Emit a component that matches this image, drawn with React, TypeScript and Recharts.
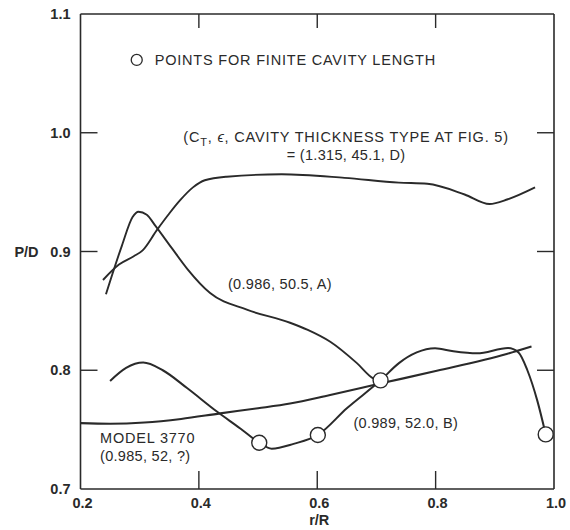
import React from 'react';
import { ComposedChart, Line, Scatter, XAxis, YAxis, ReferenceDot } from 'recharts';

// ---- data ----
const xTicks = [0.2, 0.4, 0.6, 0.8, 1.0];
const yTicks = [0.7, 0.8, 0.9, 1.0, 1.1];
const innerXTicks = [0.4, 0.6, 0.8];
const innerYTicks = [0.8, 0.9, 1.0];

// (C_T, eps, type) = (1.315, 45.1, D)
const curveD = [
  { x: 0.238, y: 0.876 }, { x: 0.265, y: 0.889 }, { x: 0.29, y: 0.896 },
  { x: 0.305, y: 0.901 }, { x: 0.329, y: 0.918 }, { x: 0.35, y: 0.932 },
  { x: 0.368, y: 0.943 }, { x: 0.39, y: 0.954 }, { x: 0.41, y: 0.96 },
  { x: 0.447, y: 0.963 }, { x: 0.54, y: 0.965 }, { x: 0.646, y: 0.962 },
  { x: 0.738, y: 0.958 }, { x: 0.786, y: 0.957 }, { x: 0.849, y: 0.948 },
  { x: 0.891, y: 0.94 }, { x: 0.922, y: 0.944 }, { x: 0.968, y: 0.954 },
];

// (0.986, 50.5, A)
const curveA = [
  { x: 0.243, y: 0.864 }, { x: 0.27, y: 0.905 }, { x: 0.288, y: 0.929 },
  { x: 0.298, y: 0.9335 }, { x: 0.312, y: 0.931 }, { x: 0.326, y: 0.922 },
  { x: 0.354, y: 0.903 }, { x: 0.381, y: 0.885 }, { x: 0.419, y: 0.865 },
  { x: 0.481, y: 0.851 }, { x: 0.554, y: 0.84 }, { x: 0.584, y: 0.834 },
  { x: 0.622, y: 0.824 }, { x: 0.667, y: 0.806 }, { x: 0.695, y: 0.793 },
  { x: 0.707, y: 0.791 },
];

// (0.989, 52.0, B)
const curveB = [
  { x: 0.25, y: 0.791 }, { x: 0.277, y: 0.802 }, { x: 0.306, y: 0.8065 },
  { x: 0.339, y: 0.8 }, { x: 0.38, y: 0.785 }, { x: 0.431, y: 0.765 },
  { x: 0.47, y: 0.751 }, { x: 0.502, y: 0.739 }, { x: 0.523, y: 0.734 },
  { x: 0.56, y: 0.738 }, { x: 0.601, y: 0.7455 }, { x: 0.65, y: 0.768 },
  { x: 0.707, y: 0.7915 }, { x: 0.738, y: 0.806 }, { x: 0.768, y: 0.815 },
  { x: 0.799, y: 0.8185 }, { x: 0.83, y: 0.816 }, { x: 0.87, y: 0.8143 },
  { x: 0.9225, y: 0.8187 }, { x: 0.94, y: 0.815 }, { x: 0.955, y: 0.8 },
  { x: 0.972, y: 0.774 }, { x: 0.986, y: 0.746 },
];

// MODEL 3770 (0.985, 52, ?)
const model3770 = [
  { x: 0.2, y: 0.7555 }, { x: 0.25, y: 0.755 }, { x: 0.308, y: 0.756 },
  { x: 0.37, y: 0.759 }, { x: 0.436, y: 0.7637 }, { x: 0.5, y: 0.768 },
  { x: 0.554, y: 0.772 }, { x: 0.62, y: 0.779 }, { x: 0.708, y: 0.789 },
  { x: 0.802, y: 0.7995 }, { x: 0.92, y: 0.8137 }, { x: 0.962, y: 0.82 },
];

// points for finite cavity length
const finiteCavityPoints = [
  { x: 0.502, y: 0.739 }, { x: 0.601, y: 0.7455 }, { x: 0.707, y: 0.7915 }, { x: 0.986, y: 0.746 },
];

// ---- styling ----
const INK = '#2a2a2a';
const FONT = '"Liberation Sans", Arial, Helvetica, sans-serif';
const capsStyle: React.CSSProperties = { fontFamily: FONT, fontSize: 14.5, fill: INK, letterSpacing: 0.8 };
const numStyle: React.CSSProperties = { fontFamily: FONT, fontSize: 14.5, fill: INK, letterSpacing: 0.3 };
const tickText: React.CSSProperties = { fontFamily: FONT, fontSize: 14.5, fill: INK, fontWeight: 600 };

const fmt = (v: number) => v.toFixed(1);
const isInner = (list: number[], v: number) => list.some((t) => Math.abs(t - v) < 1e-6);

const BottomTick = (p: any) => {
  const v = p.payload.value;
  return (
    <g>
      <text x={p.x + 2} y={p.y + 19} textAnchor="middle" style={tickText}>{fmt(v)}</text>
      {isInner(innerXTicks, v) && <line x1={p.x} x2={p.x} y1={p.y} y2={p.y - 18} stroke={INK} strokeWidth={1.4} />}
      {Math.abs(v - 0.6) < 1e-6 && (
        <text x={p.x + 2} y={p.y + 36} textAnchor="middle" style={tickText}>r/R</text>
      )}
    </g>
  );
};

const TopTick = (p: any) => {
  const v = p.payload.value;
  return isInner(innerXTicks, v) ? (
    <line x1={p.x} x2={p.x} y1={p.y} y2={p.y + 14} stroke={INK} strokeWidth={1.4} />
  ) : <g />;
};

const LeftTick = (p: any) => {
  const v = p.payload.value;
  return (
    <g>
      <text x={p.x - 10} y={p.y + 5} textAnchor="end" style={tickText}>{fmt(v)}</text>
      {isInner(innerYTicks, v) && <line x1={p.x} x2={p.x + 17} y1={p.y} y2={p.y} stroke={INK} strokeWidth={1.4} />}
      {Math.abs(v - 0.9) < 1e-6 && (
        <text x={p.x - 54} y={p.y + 5} textAnchor="middle" style={tickText}>P/D</text>
      )}
    </g>
  );
};

const RightTick = (p: any) => {
  const v = p.payload.value;
  return isInner(innerYTicks, v) ? (
    <line x1={p.x} x2={p.x - 17} y1={p.y} y2={p.y} stroke={INK} strokeWidth={1.4} />
  ) : <g />;
};

const textAt = (content: React.ReactNode, anchor: 'start' | 'middle' | 'end', style: React.CSSProperties) => (p: any) => (
  <text x={p.cx} y={p.cy} dy="0.35em" textAnchor={anchor} style={style}>{content}</text>
);

const legendShape = (p: any) => (
  <g>
    <circle cx={p.cx} cy={p.cy} r={5.5} fill="#fff" stroke={INK} strokeWidth={1.3} />
    <text x={p.cx + 18} y={p.cy} dy="0.35em" style={capsStyle}>POINTS FOR FINITE CAVITY LENGTH</text>
  </g>
);

const circleShape = (p: any) => (
  <circle cx={p.cx} cy={p.cy} r={7.5} fill="#fff" stroke={INK} strokeWidth={1.4} />
);

const lineProps = {
  type: 'monotone' as const,
  dataKey: 'y',
  stroke: INK,
  strokeWidth: 1.9,
  dot: false,
  activeDot: false,
  isAnimationActive: false,
};

export default function App() {
  return (
    <div style={{ position: 'absolute', left: 0, top: 0, width: 570, height: 530, background: '#fff' }}>
      <ComposedChart
        width={570}
        height={530}
        margin={{ top: 13, right: 15, bottom: 0, left: 20.5 }}
      >
        <XAxis
          xAxisId={0}
          dataKey="x"
          type="number"
          domain={[0.2, 1.0]}
          ticks={xTicks}
          allowDataOverflow
          height={41}
          tickSize={0}
          tickMargin={0}
          tickLine={false}
          tick={BottomTick}
          axisLine={{ stroke: INK, strokeWidth: 1.6 }}
          interval={0}
        />
        <XAxis
          xAxisId="top"
          dataKey="x"
          orientation="top"
          type="number"
          domain={[0.2, 1.0]}
          ticks={xTicks}
          allowDataOverflow
          height={1}
          tickSize={0}
          tickMargin={0}
          tickLine={false}
          tick={TopTick}
          axisLine={{ stroke: INK, strokeWidth: 1.6 }}
          interval={0}
        />
        <YAxis
          yAxisId={0}
          dataKey="y"
          type="number"
          domain={[0.7, 1.1]}
          ticks={yTicks}
          allowDataOverflow
          width={60}
          tickSize={0}
          tickMargin={0}
          tickLine={false}
          tick={LeftTick}
          axisLine={{ stroke: INK, strokeWidth: 1.6 }}
          interval={0}
        />
        <YAxis
          yAxisId="right"
          dataKey="y"
          orientation="right"
          type="number"
          domain={[0.7, 1.1]}
          ticks={yTicks}
          allowDataOverflow
          width={1}
          tickSize={0}
          tickMargin={0}
          tickLine={false}
          tick={RightTick}
          axisLine={{ stroke: INK, strokeWidth: 1.6 }}
          interval={0}
        />

        <Line data={model3770} {...lineProps} strokeWidth={2.1} />
        <Line data={curveD} {...lineProps} />
        <Line data={curveA} {...lineProps} />
        <Line data={curveB} {...lineProps} strokeWidth={2} />
        <Scatter
          data={finiteCavityPoints}
          dataKey="y"
          xAxisId="top"
          yAxisId="right"
          shape={circleShape}
          isAnimationActive={false}
        />

        <ReferenceDot x={0.295} y={1.0613} r={6} shape={legendShape} />
        <ReferenceDot
          x={0.6487}
          y={0.9964}
          r={1}
          shape={textAt(
            <>
              (C<tspan dy={4} fontSize={11}>T</tspan>
              <tspan dy={-4}>, </tspan>
              <tspan fontStyle="italic">ϵ</tspan>
              <tspan>, CAVITY THICKNESS TYPE AT FIG. 5)</tspan>
            </>,
            'middle',
            capsStyle
          )}
        />
        <ReferenceDot x={0.6487} y={0.9813} r={1} shape={textAt('= (1.315, 45.1, D)', 'middle', numStyle)} />
        <ReferenceDot x={0.537} y={0.8726} r={1} shape={textAt('(0.986, 50.5, A)', 'middle', numStyle)} />
        <ReferenceDot x={0.7496} y={0.7553} r={1} shape={textAt('(0.989, 52.0, B)', 'middle', numStyle)} />
        <ReferenceDot x={0.233} y={0.7432} r={1} shape={textAt('MODEL 3770', 'start', capsStyle)} />
        <ReferenceDot x={0.233} y={0.728} r={1} shape={textAt('(0.985, 52, ?)', 'start', numStyle)} />
      </ComposedChart>
    </div>
  );
}
